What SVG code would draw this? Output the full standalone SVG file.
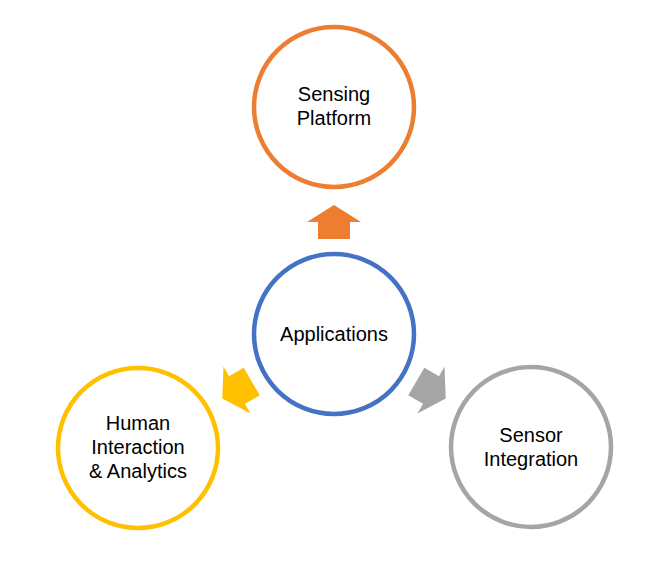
<svg xmlns="http://www.w3.org/2000/svg" width="672" height="567" viewBox="0 0 672 567">
<style>
.c{fill:#fff;stroke-width:4.5}
.t{font-family:"Liberation Sans",Arial,sans-serif;font-size:20px;fill:#000;text-anchor:middle}
</style>
<defs>
<path id="arr" d="M-17,-16 L0,-16 L0,-27 L17,0 L0,27 L0,16 L-17,16 Z"/>
</defs>
<rect width="672" height="567" fill="#fff"/>
<g id="connectors">
<use href="#arr" fill="#ED7D31" transform="translate(334,222) rotate(-90)"/>
<use href="#arr" fill="#A5A5A5" transform="translate(431,390) rotate(30)"/>
<use href="#arr" fill="#FFC000" transform="translate(237,390) rotate(150)"/>
</g>
<g id="sensing-platform">
<circle class="c" cx="334" cy="107" r="80" stroke="#ED7D31"/>
<text class="t" x="334" y="101">Sensing</text>
<text class="t" x="334" y="125">Platform</text>
</g>
<g id="applications">
<circle class="c" cx="334" cy="334" r="80" stroke="#4472C4"/>
<text class="t" x="334" y="341">Applications</text>
</g>
<g id="human-interaction">
<circle class="c" cx="138" cy="448" r="80" stroke="#FFC000"/>
<text class="t" x="138" y="430">Human</text>
<text class="t" x="138" y="454">Interaction</text>
<text class="t" x="138" y="478">&amp; Analytics</text>
</g>
<g id="sensor-integration">
<circle class="c" cx="531" cy="447" r="80" stroke="#A5A5A5"/>
<text class="t" x="531" y="442">Sensor</text>
<text class="t" x="531" y="466">Integration</text>
</g>
</svg>
